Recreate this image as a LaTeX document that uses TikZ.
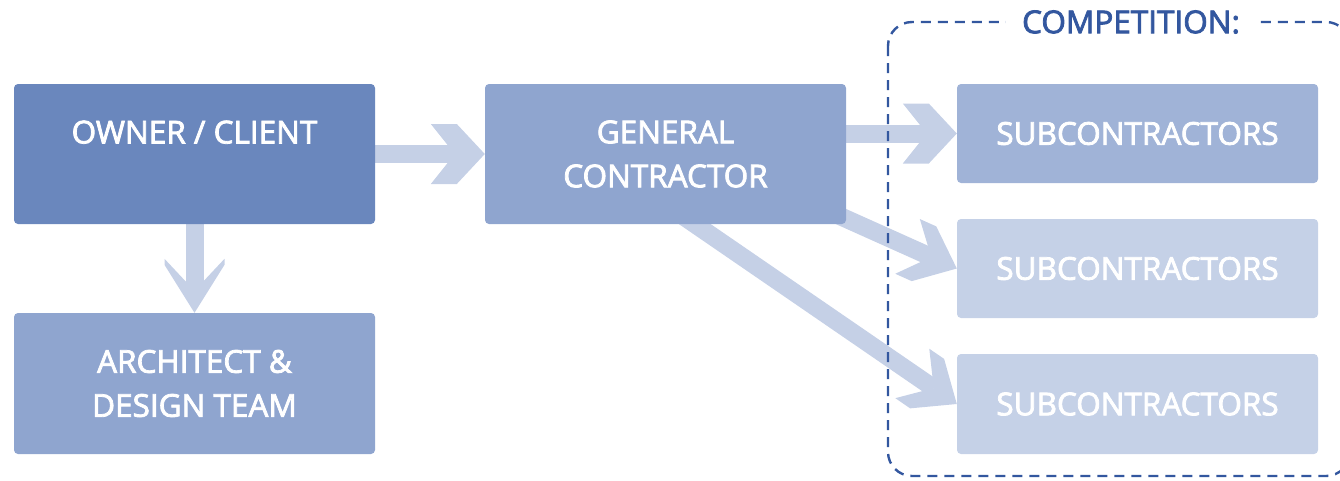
\documentclass[tikz,border=0pt]{standalone}
\usepackage{fontspec}
\setmainfont{Open Sans}
\newfontfamily\boxfont{Open Sans}[FakeBold=2.5]
\usetikzlibrary{arrows.meta,backgrounds}
\definecolor{ownerc}{HTML}{6A87BD}
\definecolor{midc}{HTML}{8FA5CF}
\definecolor{sub1c}{HTML}{A0B3D7}
\definecolor{lightc}{HTML}{C5D1E7}
\definecolor{arrc}{HTML}{C5D0E6}
\definecolor{dashc}{HTML}{33579F}

\pgfdeclarearrow{
  name = ChevH,
  setup code = {
    \pgfarrowssettipend{0pt}
    \pgfarrowssetbackend{-54pt}
    \pgfarrowssetlineend{-30pt}
    \pgfarrowssetvisualbackend{-30pt}
    \pgfarrowshullpoint{0pt}{0pt}
    \pgfarrowsupperhullpoint{-54pt}{30pt}
  },
  drawing code = {
    \pgfpathmoveto{\pgfqpoint{0pt}{0pt}}
    \pgfpathlineto{\pgfqpoint{-28pt}{30pt}}
    \pgfpathlineto{\pgfqpoint{-54pt}{30pt}}
    \pgfpathlineto{\pgfqpoint{-30pt}{0pt}}
    \pgfpathlineto{\pgfqpoint{-54pt}{-30pt}}
    \pgfpathlineto{\pgfqpoint{-28pt}{-30pt}}
    \pgfpathclose
    \pgfusepathqfill
  }
}
\pgfdeclarearrow{
  name = ChevG,
  setup code = {
    \pgfarrowssettipend{0pt}
    \pgfarrowssetbackend{-54pt}
    \pgfarrowssetlineend{-28pt}
    \pgfarrowssetvisualbackend{-28pt}
    \pgfarrowshullpoint{0pt}{0pt}
    \pgfarrowsupperhullpoint{-54pt}{30pt}
  },
  drawing code = {
    \pgfpathmoveto{\pgfqpoint{0pt}{0pt}}
    \pgfpathlineto{\pgfqpoint{-36pt}{30pt}}
    \pgfpathlineto{\pgfqpoint{-54pt}{30pt}}
    \pgfpathlineto{\pgfqpoint{-28pt}{0pt}}
    \pgfpathlineto{\pgfqpoint{-54pt}{-30pt}}
    \pgfpathlineto{\pgfqpoint{-36pt}{-30pt}}
    \pgfpathclose
    \pgfusepathqfill
  }
}
\pgfdeclarearrow{
  name = ChevD,
  setup code = {
    \pgfarrowssettipend{0pt}
    \pgfarrowssetbackend{-54pt}
    \pgfarrowssetlineend{-22pt}
    \pgfarrowssetvisualbackend{-22pt}
    \pgfarrowshullpoint{0pt}{0pt}
    \pgfarrowsupperhullpoint{-54pt}{30pt}
  },
  drawing code = {
    \pgfpathmoveto{\pgfqpoint{0pt}{0pt}}
    \pgfpathlineto{\pgfqpoint{-48pt}{30pt}}
    \pgfpathlineto{\pgfqpoint{-54pt}{30pt}}
    \pgfpathlineto{\pgfqpoint{-22pt}{0pt}}
    \pgfpathlineto{\pgfqpoint{-54pt}{-30pt}}
    \pgfpathlineto{\pgfqpoint{-48pt}{-30pt}}
    \pgfpathclose
    \pgfusepathqfill
  }
}

\tikzset{
  box/.style={rectangle, rounded corners=4pt, minimum width=361pt, align=center,
    text=white, inner sep=0pt, font=\boxfont\fontsize{31.5}{44}\selectfont},
  bigbox/.style={box, minimum height=140pt},
  subbox/.style={box, minimum height=99pt},
  flow/.style={color=arrc, line width=18pt},
  compbox/.style={draw=dashc, line width=2.4pt, dash pattern=on 10pt off 7pt, rounded corners=24pt},
  comptitle/.style={fill=white, text=dashc, inner xsep=16pt, inner ysep=2pt,
    font=\boxfont\fontsize{31.5}{38}\selectfont}
}

\begin{document}
\begin{tikzpicture}[x=1pt,y=-1pt]
\useasboundingbox (0,0) rectangle (1340,480);
\clip (0,0) rectangle (1340,480);

\node[bigbox, fill=ownerc] (owner) at (194.5,154) {OWNER / CLIENT\\\mbox{}};
\node[bigbox, fill=midc, minimum height=141pt] (arch) at (194.5,383.5) {ARCHITECT \&\\DESIGN TEAM};
\node[bigbox, fill=midc] (gc) at (665.5,154) {GENERAL\\CONTRACTOR};
\node[subbox, fill=sub1c] (s1) at (1137.5,133.5) {SUBCONTRACTORS};
\node[subbox, fill=lightc] (s2) at (1137.5,268.5) {SUBCONTRACTORS};
\node[subbox, fill=lightc, minimum height=100pt] (s3) at (1137.5,404) {SUBCONTRACTORS};

\coordinate (g2) at ([shift={(-26,-17)}]gc.south east);
\coordinate (g3) at ([shift={(-176,-17)}]gc.south east);

\begin{scope}[on background layer]
  \draw[flow, -ChevH] (owner.east) -- (gc.west);
  \draw[flow, -ChevD] (owner.south) -- (arch.north);
  \draw[flow, -ChevH] (gc.east |- s1.west) -- (s1.west);
  \draw[flow, -ChevG] (g2) -- (s2.west);
  \draw[flow, -ChevG] (g3) -- (s3.west);
\end{scope}

\draw[compbox] (888,22) rectangle (1350,476);
\node[comptitle] (comp) at (1131,22) {COMPETITION:};
\end{tikzpicture}
\end{document}
